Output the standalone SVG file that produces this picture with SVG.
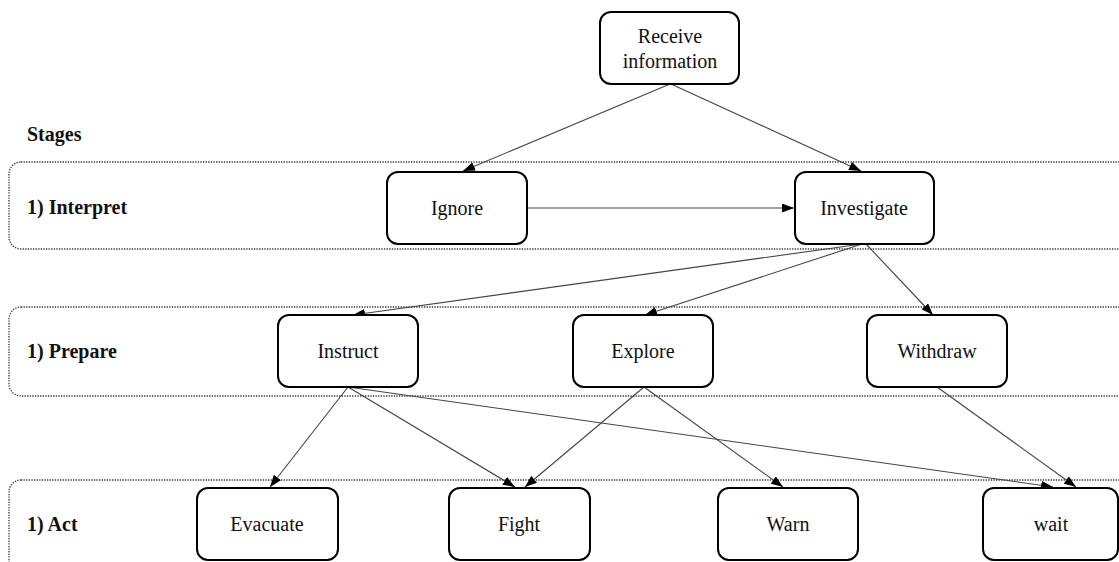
<svg xmlns="http://www.w3.org/2000/svg" width="1119" height="562" viewBox="0 0 1119 562">
<defs>
<marker id="arr" viewBox="0 0 12 9" refX="12" refY="4.5" markerWidth="12" markerHeight="9" markerUnits="userSpaceOnUse" orient="auto">
<path d="M0,0 L12,4.5 L0,9 z" fill="#000"/>
</marker>
<style>
.band{fill:none;stroke:#333;stroke-width:1.3;stroke-dasharray:1.3 1.3}
.node rect{fill:#fff;stroke:#000;stroke-width:2}
.node text{font-size:20px;fill:#111;text-anchor:middle}
.stage{font-size:20px;font-weight:bold;fill:#111}
.edge{stroke:#444;stroke-width:1.1;fill:none;marker-end:url(#arr)}
</style>
</defs>
<rect width="1119" height="562" fill="#fff"/>
<g id="stages" font-family="'Liberation Serif', 'Times New Roman', Times, serif">
<text class="stage" x="27" y="141">Stages</text>
<rect class="band" x="9" y="162" width="1140" height="87" rx="12"/>
<text class="stage" x="27" y="214">1) Interpret</text>
<rect class="band" x="9" y="307" width="1140" height="89" rx="12"/>
<text class="stage" x="27" y="358">1) Prepare</text>
<rect class="band" x="9" y="480" width="1140" height="110" rx="12"/>
<text class="stage" x="27" y="531">1) Act</text>
</g>
<g id="connectors">
<line class="edge" x1="670" y1="84" x2="463" y2="171"/>
<line class="edge" x1="671" y1="84" x2="861" y2="171"/>
<line class="edge" x1="527" y1="208" x2="794" y2="208"/>
<line class="edge" x1="862" y1="244" x2="353" y2="315"/>
<line class="edge" x1="862" y1="244" x2="645" y2="315"/>
<line class="edge" x1="866" y1="244" x2="933" y2="315"/>
<line class="edge" x1="348" y1="387" x2="270" y2="487"/>
<line class="edge" x1="348" y1="387" x2="515" y2="487"/>
<line class="edge" x1="348" y1="387" x2="1053" y2="487"/>
<line class="edge" x1="644" y1="387" x2="525" y2="487"/>
<line class="edge" x1="644" y1="387" x2="783" y2="487"/>
<line class="edge" x1="937" y1="387" x2="1076" y2="487"/>
</g>
<g font-family="'Liberation Serif', 'Times New Roman', Times, serif">
<g id="receive" class="node"><rect x="600" y="12" width="139" height="72" rx="11"/><text x="670" y="43">Receive</text><text x="670" y="68">information</text></g>
<g id="ignore" class="node"><rect x="387" y="172" width="140" height="72" rx="11"/><text x="457" y="215">Ignore</text></g>
<g id="investigate" class="node"><rect x="795" y="172" width="139" height="72" rx="11"/><text x="864" y="215">Investigate</text></g>
<g id="instruct" class="node"><rect x="278" y="315" width="140" height="72" rx="11"/><text x="348" y="358">Instruct</text></g>
<g id="explore" class="node"><rect x="573" y="315" width="140" height="72" rx="11"/><text x="643" y="358">Explore</text></g>
<g id="withdraw" class="node"><rect x="867" y="315" width="140" height="72" rx="11"/><text x="937" y="358">Withdraw</text></g>
<g id="evacuate" class="node"><rect x="197" y="488" width="141" height="72" rx="11"/><text x="267" y="531">Evacuate</text></g>
<g id="fight" class="node"><rect x="449" y="488" width="141" height="72" rx="11"/><text x="519" y="531">Fight</text></g>
<g id="warn" class="node"><rect x="718" y="488" width="140" height="72" rx="11"/><text x="788" y="531">Warn</text></g>
<g id="wait" class="node"><rect x="983" y="488" width="135" height="72" rx="11"/><text x="1051" y="531">wait</text></g>
</g>
</svg>
